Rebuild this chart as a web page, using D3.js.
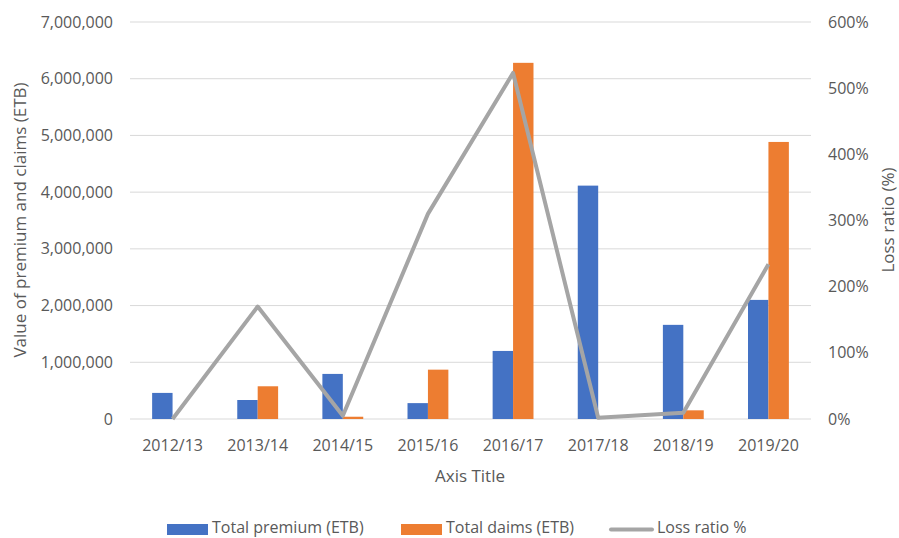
<!DOCTYPE html>
<html>
<head>
<meta charset="utf-8">
<script src="https://cdn.jsdelivr.net/npm/d3@7"></script>
<style>
  html, body { margin: 0; padding: 0; background: #fff; }
  svg text { font-family: "Open Sans", "Noto Sans", sans-serif; fill: #595959; }
</style>
</head>
<body>
<svg id="chart" width="899" height="538"></svg>
<script>
// Insurance premium vs. claims per fiscal year, with loss ratio on a secondary axis
const categories = ["2012/13", "2013/14", "2014/15", "2015/16", "2016/17", "2017/18", "2018/19", "2019/20"];
const premium = [460000, 335000, 795000, 280000, 1200000, 4115000, 1660000, 2100000];
const claims = [0, 577000, 40000, 870000, 6280000, 0, 153000, 4885000];
const lossRatio = [0, 1.70, 0.05, 3.10, 5.23, 0.02, 0.095, 2.34];
const leftTicks = [0, 1000000, 2000000, 3000000, 4000000, 5000000, 6000000, 7000000];
const rightTicks = [0, 1, 2, 3, 4, 5, 6];
const seriesNames = ["Total premium (ETB)", "Total daims (ETB)", "Loss ratio %"];
const colors = { premium: "#4472C4", claims: "#ED7D31", ratio: "#A5A5A5" };

const svg = d3.select("#chart");
const m = { left: 130, right: 811, top: 22, bottom: 419 };

const x = d3.scaleBand().domain(categories).range([m.left, m.right]).paddingInner(0.52).paddingOuter(0.26);
const yL = d3.scaleLinear().domain([0, 7000000]).range([m.bottom, m.top]);
const yR = d3.scaleLinear().domain([0, 6]).range([m.bottom, m.top]);

// gridlines
svg.append("g").selectAll("line").data(leftTicks).join("line")
  .attr("x1", m.left).attr("x2", m.right)
  .attr("y1", d => yL(d)).attr("y2", d => yL(d))
  .attr("stroke", "#D9D9D9").attr("stroke-width", 1);

// left axis
const fmt = d3.format(",");
const axL = svg.append("g").attr("transform", `translate(${m.left - 17},0)`)
  .call(d3.axisLeft(yL).tickValues(leftTicks).tickFormat(fmt).tickSize(0).tickPadding(0));
axL.select(".domain").remove();
axL.selectAll("text").attr("font-size", 16).style("fill", "#595959");

// right axis
const axR = svg.append("g").attr("transform", `translate(${m.right + 17},0)`)
  .call(d3.axisRight(yR).tickValues(rightTicks).tickFormat(d => (d * 100) + "%").tickSize(0).tickPadding(0));
axR.select(".domain").remove();
axR.selectAll("text").attr("font-size", 16).style("fill", "#595959");

// category axis
const axB = svg.append("g").attr("transform", `translate(0,${m.bottom + 21})`)
  .call(d3.axisBottom(x).tickSize(0).tickPadding(0));
axB.select(".domain").remove();
axB.selectAll("text").attr("font-size", 16).attr("dy", "0.71em").style("fill", "#595959");

// bars
const half = x.bandwidth() / 2;
svg.append("g").selectAll("rect").data(categories).join("rect")
  .attr("x", d => x(d)).attr("width", half)
  .attr("y", (d, i) => yL(premium[i])).attr("height", (d, i) => yL(0) - yL(premium[i]))
  .attr("fill", colors.premium);
svg.append("g").selectAll("rect").data(categories).join("rect")
  .attr("x", d => x(d) + half).attr("width", half)
  .attr("y", (d, i) => yL(claims[i])).attr("height", (d, i) => yL(0) - yL(claims[i]))
  .attr("fill", colors.claims);

// loss ratio line
const line = d3.line().x((d, i) => x(categories[i]) + half).y(d => yR(d));
svg.append("path").datum(lossRatio).attr("d", line)
  .attr("fill", "none").attr("stroke", colors.ratio).attr("stroke-width", 4)
  .attr("stroke-linejoin", "round");

// axis titles
svg.append("text").attr("x", 470).attr("y", 482).attr("text-anchor", "middle")
  .attr("font-size", 17).text("Axis Title");
svg.append("text").attr("transform", "translate(26,220) rotate(-90)").attr("text-anchor", "middle")
  .attr("font-size", 17).text("Value of premium and claims (ETB)");
svg.append("text").attr("transform", "translate(894,220) rotate(-90)").attr("text-anchor", "middle")
  .attr("font-size", 17).text("Loss ratio (%)");

// legend
const lg = svg.append("g");
lg.append("rect").attr("x", 167).attr("y", 524).attr("width", 41).attr("height", 11).attr("fill", colors.premium);
lg.append("text").attr("x", 212).attr("y", 533).attr("font-size", 16).text(seriesNames[0]);
lg.append("rect").attr("x", 401).attr("y", 524).attr("width", 41).attr("height", 11).attr("fill", colors.claims);
lg.append("text").attr("x", 446).attr("y", 533).attr("font-size", 16).text(seriesNames[1]);
lg.append("line").attr("x1", 611).attr("x2", 652).attr("y1", 529.5).attr("y2", 529.5)
  .attr("stroke", colors.ratio).attr("stroke-width", 4).attr("stroke-linecap", "round");
lg.append("text").attr("x", 657).attr("y", 533).attr("font-size", 16).text(seriesNames[2]);
</script>
</body>
</html>
